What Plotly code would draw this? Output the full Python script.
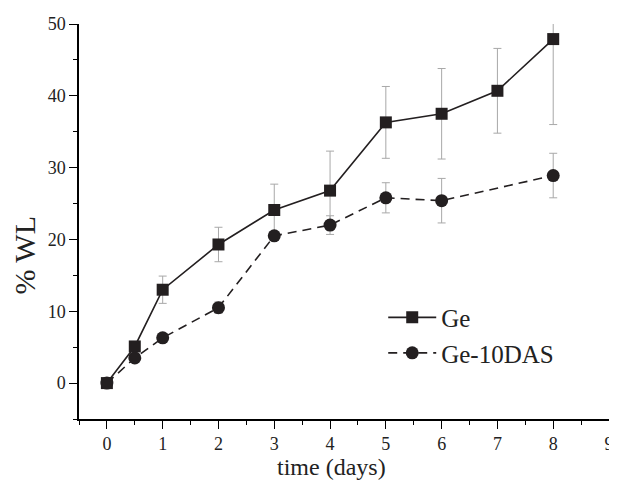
import plotly.graph_objects as go

# Data
days_ge = [0, 0.5, 1, 2, 3, 4, 5, 6, 7, 8]
wl_ge = [0, 5.1, 13.0, 19.3, 24.1, 26.8, 36.3, 37.5, 40.7, 47.9]
err_ge = [0, 0, 1.9, 2.4, 3.6, 5.5, 5.0, 6.3, 5.9, 11.9]

days_das = [0, 0.5, 1, 2, 3, 4, 5, 6, 8]
wl_das = [0, 3.5, 6.3, 10.5, 20.5, 22.0, 25.8, 25.4, 28.9]
err_das = [0, 0, 0, 0.8, 0, 1.3, 2.1, 3.1, 3.1]

x_ticks = [0, 1, 2, 3, 4, 5, 6, 7, 8, 9]
y_ticks = [0, 10, 20, 30, 40, 50]

FONT = "Liberation Serif"
INK = "#231f20"
ERR = "#a8a8a8"

fig = go.Figure()
fig.add_trace(go.Scatter(
    x=days_ge, y=wl_ge, name="Ge", mode="lines+markers",
    line=dict(color=INK, width=1.6),
    marker=dict(symbol="square", size=12, color=INK),
    error_y=dict(type="data", array=err_ge, visible=True, color=ERR, thickness=1, width=4),
))
fig.add_trace(go.Scatter(
    x=days_das, y=wl_das, name="Ge-10DAS", mode="lines+markers",
    line=dict(color=INK, width=1.6, dash="9px,6px"),
    marker=dict(symbol="circle", size=13, color=INK),
    error_y=dict(type="data", array=err_das, visible=True, color=ERR, thickness=1, width=4),
))

axis_common = dict(
    showline=True, linecolor="black", linewidth=1.5,
    ticks="outside", ticklen=8, tickwidth=1.2, tickcolor="black",
    showgrid=False, zeroline=False, mirror=False,
    tickfont=dict(family=FONT, size=18, color="#222"),
    ticklabeloverflow="allow",
)
fig.update_xaxes(range=[-0.5, 9], tickvals=x_ticks,
                 minor=dict(ticks="outside", ticklen=4, dtick=0.5, tick0=0, tickcolor="black", tickwidth=1.2),
                 **axis_common)
fig.update_yaxes(range=[-5, 50], tickvals=y_ticks,
                 minor=dict(ticks="outside", ticklen=4, dtick=5, tick0=0, tickcolor="black", tickwidth=1.2),
                 **axis_common)

fig.add_annotation(text="time (days)", xref="paper", yref="paper", x=0.4766, y=-0.122,
                   xanchor="center", yanchor="middle", showarrow=False,
                   font=dict(family=FONT, size=24, color="#222"))
fig.add_annotation(text="% WL", xref="paper", yref="paper", x=-0.1028, y=0.415,
                   xanchor="center", yanchor="middle", showarrow=False, textangle=-90,
                   font=dict(family=FONT, size=30, color="#222"))

# the page body adds an 8px offset; size the figure so the plot area lands where the reference has it
fig.update_layout(
    width=609, height=475,
    margin=dict(l=71, r=3, t=16, b=64),
    paper_bgcolor="white", plot_bgcolor="white",
    legend=dict(x=0.574, y=0.315, xanchor="left", yanchor="top",
                font=dict(family=FONT, size=25, color="#222"),
                bgcolor="rgba(0,0,0,0)", tracegroupgap=0, itemwidth=48),
    showlegend=True,
)

fig.write_html("out.html")
